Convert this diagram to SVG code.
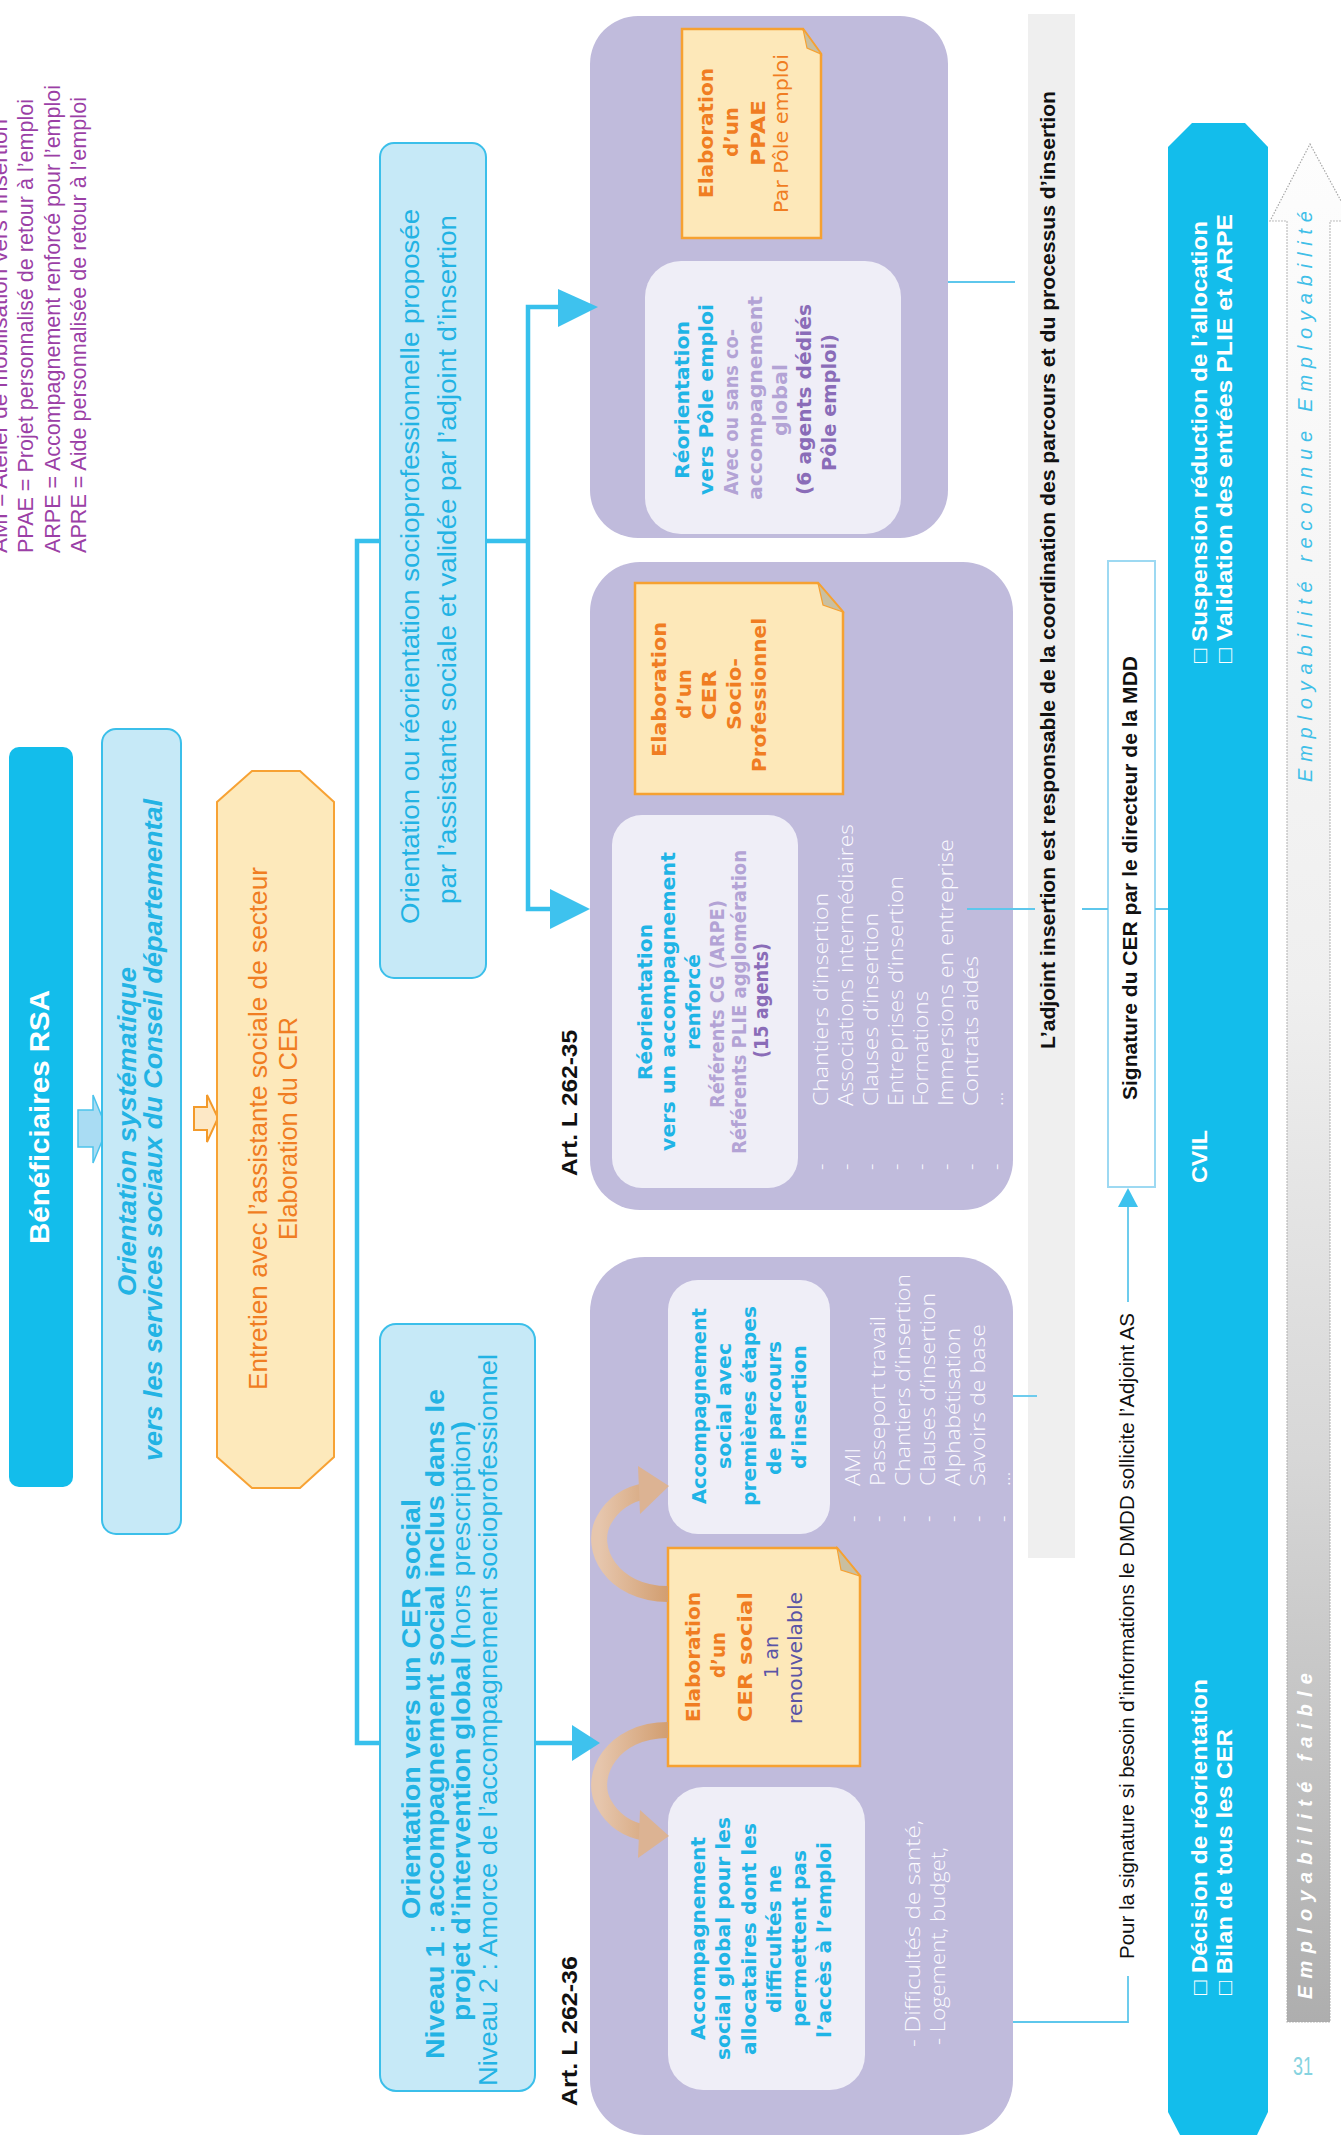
<svg xmlns="http://www.w3.org/2000/svg" width="1341" height="2144" viewBox="0 0 1341 2144">
<style>
text { font-family: "Liberation Sans", Arial, sans-serif; }
.leg { font-size: 21.5px; fill: #9b3fa6; }
.vb { font-family: "DejaVu Sans", Verdana, sans-serif; font-weight: bold; font-size: 20px; }
.vr { font-family: "DejaVu Sans", Verdana, sans-serif; font-size: 20px; }
.cy { fill: #1fb4e6; }
.lp { fill: #b3a3d5; }
.dp { fill: #8a6cb8; }
.or { fill: #f07d22; }
.ind { fill: #5a54a6; }
.li { font-family: "Open Sans", "Liberation Sans", sans-serif; font-weight: 300; font-size: 20px; fill: #fbfaff; }
.bk { fill: #111111; }
.wb { fill: #ffffff; font-weight: bold; }
.bt { fill: #22b3e4; }
.purple { fill: #c0bbdc; }
.inner { fill: #efeef7; }
.note { fill: #fde8b9; stroke: #f6a131; stroke-width: 2.5; }
.fold { fill: #c9bfa0; stroke: #f6a131; stroke-width: 1.2; }
.lbox { fill: #c6e9f7; stroke: #3bbfea; stroke-width: 2; }
.conn { fill: none; stroke: #37c0ec; stroke-width: 4.5; }
.thin { fill: none; stroke: #5ec7ec; stroke-width: 1.8; }
.head { fill: #3ec2ee; }
.tan { fill: none; stroke: url(#tanG); stroke-width: 16; }
.tanh { fill: #dcb393; }
</style>
<defs>
<linearGradient id="empl" x1="0" y1="144" x2="0" y2="2022" gradientUnits="userSpaceOnUse">
<stop offset="0" stop-color="#fdfdfd"/>
<stop offset="0.45" stop-color="#efefef"/>
<stop offset="0.7" stop-color="#d7d7d7"/>
<stop offset="1" stop-color="#aeaeae"/>
</linearGradient>
<linearGradient id="tanG" x1="0" y1="0" x2="1" y2="0">
<stop offset="0" stop-color="#e6c6ad"/>
<stop offset="1" stop-color="#d29e70"/>
</linearGradient>
</defs>
<rect width="1341" height="2144" fill="#ffffff"/>

<g id="legend">
<text class="leg" transform="translate(7,553) rotate(-90)" textLength="434" lengthAdjust="spacingAndGlyphs">AMI = Atelier de mobilisation vers l’insertion</text>
<text class="leg" transform="translate(33,553) rotate(-90)" textLength="454" lengthAdjust="spacingAndGlyphs">PPAE = Projet personnalisé de retour à l’emploi</text>
<text class="leg" transform="translate(60,553) rotate(-90)" textLength="468" lengthAdjust="spacingAndGlyphs">ARPE = Accompagnement renforcé pour l’emploi</text>
<text class="leg" transform="translate(86,553) rotate(-90)" textLength="456" lengthAdjust="spacingAndGlyphs">APRE = Aide personnalisée de retour à l’emploi</text>
</g>

<g id="beneficiaires">
<rect x="9" y="747" width="64" height="740" rx="10" fill="#13bdeb"/>
<text class="wb" font-size="28" transform="translate(49,1244) rotate(-90)" textLength="254" lengthAdjust="spacingAndGlyphs">Bénéficiaires RSA</text>
</g>

<g id="arrow-blue">
<polygon points="78,1110 93,1110 93,1095 107,1129 93,1163 93,1147 78,1147" fill="#a9dcf3" stroke="#4cc3ec" stroke-width="1.5"/>
</g>

<g id="orientation-systematique">
<rect class="lbox" x="102" y="729" width="79" height="805" rx="14"/>
<text class="bt" font-weight="bold" font-style="italic" font-size="25" transform="translate(136,1296) rotate(-90)" textLength="329" lengthAdjust="spacingAndGlyphs">Orientation systématique</text>
<text class="bt" font-weight="bold" font-style="italic" font-size="25" transform="translate(162,1461) rotate(-90)" textLength="662" lengthAdjust="spacingAndGlyphs">vers les services sociaux du Conseil départemental</text>
</g>

<g id="arrow-orange">
<polygon points="194,1107 207,1107 207,1095 218,1118 207,1142 207,1130 194,1130" fill="#fde8c6" stroke="#f39a2b" stroke-width="2"/>
</g>

<g id="entretien">
<polygon points="252,771 300,771 334,802 334,1457 300,1488 252,1488 217,1457 217,802" fill="#fde9bb" stroke="#f7a234" stroke-width="2"/>
<text class="or" font-size="25" transform="translate(267,1390) rotate(-90)" textLength="523" lengthAdjust="spacingAndGlyphs">Entretien avec l’assistante sociale de secteur</text>
<text class="or" font-size="25" transform="translate(297,1240) rotate(-90)" textLength="223" lengthAdjust="spacingAndGlyphs">Elaboration du CER</text>
</g>

<g id="orientation-socio">
<rect class="lbox" x="380" y="143" width="106" height="835" rx="14"/>
<text class="bt" font-size="25" transform="translate(419,924) rotate(-90)" textLength="715" lengthAdjust="spacingAndGlyphs">Orientation ou réorientation socioprofessionnelle proposée</text>
<text class="bt" font-size="25" transform="translate(456,904) rotate(-90)" textLength="689" lengthAdjust="spacingAndGlyphs">par l’assistante sociale et validée par l’adjoint d’insertion</text>
</g>

<g id="orientation-cer-social">
<rect class="lbox" x="380" y="1324" width="155" height="767" rx="16"/>
<text class="bt" font-weight="bold" font-size="25" transform="translate(420,1919) rotate(-90)" textLength="420" lengthAdjust="spacingAndGlyphs">Orientation vers un CER social</text>
<text class="bt" font-weight="bold" font-size="25" transform="translate(444,2059) rotate(-90)" textLength="670" lengthAdjust="spacingAndGlyphs">Niveau 1 : accompagnement social inclus dans le</text>
<text class="bt" font-size="25" transform="translate(470,2021) rotate(-90)" textLength="600" lengthAdjust="spacingAndGlyphs"><tspan font-weight="bold">projet d’intervention global (</tspan><tspan>hors prescription</tspan><tspan font-weight="bold">)</tspan></text>
<text class="bt" font-size="25" transform="translate(497,2086) rotate(-90)" textLength="732" lengthAdjust="spacingAndGlyphs">Niveau 2 : Amorce de l’accompagnement socioprofessionnel</text>
</g>

<g id="art-labels">
<text class="bk" font-weight="bold" font-size="22" transform="translate(577,1176) rotate(-90)" textLength="146" lengthAdjust="spacingAndGlyphs">Art. L 262-35</text>
<text class="bk" font-weight="bold" font-size="22" transform="translate(577,2106) rotate(-90)" textLength="150" lengthAdjust="spacingAndGlyphs">Art. L 262-36</text>
</g>

<g id="box-pole-emploi">
<rect class="purple" x="590" y="16" width="358" height="522" rx="48"/>
<rect class="inner" x="645" y="261" width="256" height="273" rx="36"/>
<text class="vb cy" transform="translate(689,479) rotate(-90)" textLength="158" lengthAdjust="spacingAndGlyphs">Réorientation</text>
<text class="vb cy" transform="translate(713,495) rotate(-90)" textLength="191" lengthAdjust="spacingAndGlyphs">vers Pôle emploi</text>
<text class="vb lp" font-size="19" transform="translate(738,495) rotate(-90)" textLength="166" lengthAdjust="spacingAndGlyphs">Avec ou sans co-</text>
<text class="vb lp" font-size="19" transform="translate(762,500) rotate(-90)" textLength="204" lengthAdjust="spacingAndGlyphs">accompagnement</text>
<text class="vb lp" font-size="19" transform="translate(787,436) rotate(-90)" textLength="72" lengthAdjust="spacingAndGlyphs">global</text>
<text class="vb dp" transform="translate(811,495) rotate(-90)" textLength="191" lengthAdjust="spacingAndGlyphs">(6 agents dédiés</text>
<text class="vb dp" transform="translate(836,471) rotate(-90)" textLength="137" lengthAdjust="spacingAndGlyphs">Pôle emploi)</text>
</g>

<g id="note-ppae">
<path class="note" d="M682,29 H803 L821,54 V238 H682 Z"/>
<path class="fold" d="M803,29 L821,54 L807,48 Z"/>
<text class="vb or" transform="translate(713,198) rotate(-90)" textLength="130" lengthAdjust="spacingAndGlyphs">Elaboration</text>
<text class="vb or" transform="translate(738,157) rotate(-90)" textLength="50" lengthAdjust="spacingAndGlyphs">d’un</text>
<text class="vb or" font-size="22" transform="translate(765,166) rotate(-90)" textLength="66" lengthAdjust="spacingAndGlyphs">PPAE</text>
<text class="vr or" transform="translate(788,213) rotate(-90)" textLength="159" lengthAdjust="spacingAndGlyphs">Par Pôle emploi</text>
</g>

<g id="box-renforce">
<rect class="purple" x="590" y="562" width="423" height="648" rx="50"/>
<rect class="inner" x="612" y="815" width="186" height="373" rx="30"/>
<text class="vb cy" transform="translate(652,1080) rotate(-90)" textLength="156" lengthAdjust="spacingAndGlyphs">Réorientation</text>
<text class="vb cy" transform="translate(675,1151) rotate(-90)" textLength="299" lengthAdjust="spacingAndGlyphs">vers un accompagnement</text>
<text class="vb cy" transform="translate(700,1050) rotate(-90)" textLength="96" lengthAdjust="spacingAndGlyphs">renforcé</text>
<text class="vb lp" font-size="18" transform="translate(724,1108) rotate(-90)" textLength="208" lengthAdjust="spacingAndGlyphs">Référents CG (ARPE)</text>
<text class="vb lp" font-size="18" transform="translate(746,1154) rotate(-90)" textLength="304" lengthAdjust="spacingAndGlyphs">Référents PLIE agglomération</text>
<text class="vb dp" font-size="18" transform="translate(768,1058) rotate(-90)" textLength="115" lengthAdjust="spacingAndGlyphs">(15 agents)</text>
</g>

<g id="note-cer-socio-pro">
<path class="note" d="M635,583 H818 L843,612 V794 H635 Z"/>
<path class="fold" d="M818,583 L843,612 L823,605 Z"/>
<text class="vb or" transform="translate(666,757) rotate(-90)" textLength="135" lengthAdjust="spacingAndGlyphs">Elaboration</text>
<text class="vb or" transform="translate(691,719) rotate(-90)" textLength="50" lengthAdjust="spacingAndGlyphs">d’un</text>
<text class="vb or" transform="translate(716,720) rotate(-90)" textLength="50" lengthAdjust="spacingAndGlyphs">CER</text>
<text class="vb or" transform="translate(741,730) rotate(-90)" textLength="72" lengthAdjust="spacingAndGlyphs">Socio-</text>
<text class="vb or" transform="translate(766,772) rotate(-90)" textLength="154" lengthAdjust="spacingAndGlyphs">Professionnel</text>
</g>

<g id="list-socio-pro">
<text class="li" transform="translate(828,1170) rotate(-90)">-</text>
<text class="li" transform="translate(853,1170) rotate(-90)">-</text>
<text class="li" transform="translate(878,1170) rotate(-90)">-</text>
<text class="li" transform="translate(903,1170) rotate(-90)">-</text>
<text class="li" transform="translate(928,1170) rotate(-90)">-</text>
<text class="li" transform="translate(953,1170) rotate(-90)">-</text>
<text class="li" transform="translate(978,1170) rotate(-90)">-</text>
<text class="li" transform="translate(1003,1170) rotate(-90)">-</text>
<text class="li" transform="translate(828,1106) rotate(-90)" textLength="213" lengthAdjust="spacingAndGlyphs">Chantiers d’insertion</text>
<text class="li" transform="translate(853,1106) rotate(-90)" textLength="282" lengthAdjust="spacingAndGlyphs">Associations intermédiaires</text>
<text class="li" transform="translate(878,1106) rotate(-90)" textLength="193" lengthAdjust="spacingAndGlyphs">Clauses d’insertion</text>
<text class="li" transform="translate(903,1106) rotate(-90)" textLength="230" lengthAdjust="spacingAndGlyphs">Entreprises d’insertion</text>
<text class="li" transform="translate(928,1106) rotate(-90)" textLength="115" lengthAdjust="spacingAndGlyphs">Formations</text>
<text class="li" transform="translate(953,1106) rotate(-90)" textLength="267" lengthAdjust="spacingAndGlyphs">Immersions en entreprise</text>
<text class="li" transform="translate(978,1106) rotate(-90)" textLength="150" lengthAdjust="spacingAndGlyphs">Contrats aidés</text>
<text class="li" transform="translate(1003,1106) rotate(-90)">…</text>
</g>

<g id="box-cer-social">
<rect class="purple" x="590" y="1257" width="423" height="878" rx="55"/>
<rect class="inner" x="668" y="1280" width="162" height="254" rx="30"/>
<text class="vb cy" transform="translate(706,1504) rotate(-90)" textLength="196" lengthAdjust="spacingAndGlyphs">Accompagnement</text>
<text class="vb cy" transform="translate(731,1469) rotate(-90)" textLength="126" lengthAdjust="spacingAndGlyphs">social avec</text>
<text class="vb cy" transform="translate(756,1506) rotate(-90)" textLength="200" lengthAdjust="spacingAndGlyphs">premières étapes</text>
<text class="vb cy" transform="translate(781,1475) rotate(-90)" textLength="134" lengthAdjust="spacingAndGlyphs">de parcours</text>
<text class="vb cy" transform="translate(806,1469) rotate(-90)" textLength="124" lengthAdjust="spacingAndGlyphs">d’insertion</text>
<rect class="inner" x="668" y="1787" width="197" height="303" rx="35"/>
<text class="vb cy" transform="translate(705,2040) rotate(-90)" textLength="203" lengthAdjust="spacingAndGlyphs">Accompagnement</text>
<text class="vb cy" transform="translate(730,2060) rotate(-90)" textLength="243" lengthAdjust="spacingAndGlyphs">social global pour les</text>
<text class="vb cy" transform="translate(756,2055) rotate(-90)" textLength="232" lengthAdjust="spacingAndGlyphs">allocataires dont les</text>
<text class="vb cy" transform="translate(781,2013) rotate(-90)" textLength="148" lengthAdjust="spacingAndGlyphs">difficultés ne</text>
<text class="vb cy" transform="translate(806,2027) rotate(-90)" textLength="177" lengthAdjust="spacingAndGlyphs">permettent pas</text>
<text class="vb cy" transform="translate(831,2038) rotate(-90)" textLength="196" lengthAdjust="spacingAndGlyphs">l’accès à l’emploi</text>
</g>

<g id="note-cer-social">
<path class="note" d="M668,1548 H837 L860,1576 V1766 H668 Z"/>
<path class="fold" d="M837,1548 L860,1576 L841,1570 Z"/>
<text class="vb or" transform="translate(700,1722) rotate(-90)" textLength="130" lengthAdjust="spacingAndGlyphs">Elaboration</text>
<text class="vb or" transform="translate(725,1678) rotate(-90)" textLength="46" lengthAdjust="spacingAndGlyphs">d’un</text>
<text class="vb or" font-size="23" transform="translate(752,1722) rotate(-90)" textLength="130" lengthAdjust="spacingAndGlyphs">CER social</text>
<text class="vr ind" transform="translate(778,1678) rotate(-90)" textLength="42" lengthAdjust="spacingAndGlyphs">1 an</text>
<text class="vr ind" transform="translate(802,1724) rotate(-90)" textLength="132" lengthAdjust="spacingAndGlyphs">renouvelable</text>
</g>

<g id="list-social">
<text class="li" transform="translate(860,1522) rotate(-90)">-</text>
<text class="li" transform="translate(885,1522) rotate(-90)">-</text>
<text class="li" transform="translate(910,1522) rotate(-90)">-</text>
<text class="li" transform="translate(935,1522) rotate(-90)">-</text>
<text class="li" transform="translate(960,1522) rotate(-90)">-</text>
<text class="li" transform="translate(985,1522) rotate(-90)">-</text>
<text class="li" transform="translate(1010,1522) rotate(-90)">-</text>
<text class="li" transform="translate(860,1486) rotate(-90)" textLength="38" lengthAdjust="spacingAndGlyphs">AMI</text>
<text class="li" transform="translate(885,1486) rotate(-90)" textLength="170" lengthAdjust="spacingAndGlyphs">Passeport travail</text>
<text class="li" transform="translate(910,1486) rotate(-90)" textLength="212" lengthAdjust="spacingAndGlyphs">Chantiers d’insertion</text>
<text class="li" transform="translate(935,1486) rotate(-90)" textLength="193" lengthAdjust="spacingAndGlyphs">Clauses d’insertion</text>
<text class="li" transform="translate(960,1486) rotate(-90)" textLength="158" lengthAdjust="spacingAndGlyphs">Alphabétisation</text>
<text class="li" transform="translate(985,1486) rotate(-90)" textLength="162" lengthAdjust="spacingAndGlyphs">Savoirs de base</text>
<text class="li" transform="translate(1010,1486) rotate(-90)">…</text>
<text class="li" transform="translate(920,2047) rotate(-90)" textLength="227" lengthAdjust="spacingAndGlyphs">- Difficultés de santé,</text>
<text class="li" transform="translate(945,2045) rotate(-90)" textLength="198" lengthAdjust="spacingAndGlyphs">- Logement, budget,</text>
</g>

<g id="coordination">
<rect x="1028" y="14" width="47" height="1544" fill="#efefef"/>
<text class="bk" font-weight="bold" font-size="21" transform="translate(1055,1049) rotate(-90)" textLength="958" lengthAdjust="spacingAndGlyphs">L’adjoint insertion est responsable de la coordination des parcours et du processus d’insertion</text>
</g>

<g id="signature">
<rect x="1108" y="561" width="47" height="626" fill="#ffffff" stroke="#9dd9f2" stroke-width="2"/>
<text class="bk" font-weight="bold" font-size="21" transform="translate(1137,1100) rotate(-90)" textLength="444" lengthAdjust="spacingAndGlyphs">Signature du CER par le directeur de la MDD</text>
</g>

<g id="note-signature">
<text class="bk" font-size="20" transform="translate(1134,1959) rotate(-90)" textLength="646" lengthAdjust="spacingAndGlyphs">Pour la signature si besoin d’informations le DMDD sollicite l’Adjoint AS</text>
</g>

<g id="cvil">
<polygon points="1192,123 1245,123 1268,147 1268,2112 1257,2135 1180,2135 1168,2112 1168,147" fill="#13bdeb"/>
<text class="wb" font-size="22" transform="translate(1207,663) rotate(-90)" textLength="442" lengthAdjust="spacingAndGlyphs">□ Suspension réduction de l’allocation</text>
<text class="wb" font-size="22" transform="translate(1232,663) rotate(-90)" textLength="449" lengthAdjust="spacingAndGlyphs">□ Validation des entrées PLIE et ARPE</text>
<text class="wb" font-size="22" transform="translate(1207,1183) rotate(-90)" textLength="53" lengthAdjust="spacingAndGlyphs">CVIL</text>
<text class="wb" font-size="22" transform="translate(1207,1995) rotate(-90)" textLength="316" lengthAdjust="spacingAndGlyphs">□ Décision de réorientation</text>
<text class="wb" font-size="22" transform="translate(1232,1995) rotate(-90)" textLength="266" lengthAdjust="spacingAndGlyphs">□ Bilan de tous les CER</text>
</g>

<g id="employabilite">
<polygon points="1310,144 1352,221 1330,221 1330,2022 1287,2022 1287,221 1270,221" fill="url(#empl)" stroke="#a8a8a8" stroke-width="1.2" stroke-dasharray="1.5 1.5"/>
<text font-style="italic" font-size="20" fill="#3fbfe8" transform="translate(1312,782) rotate(-90)" textLength="571" lengthAdjust="spacing">Employabilité reconnue Employabilité</text>
<text font-style="italic" font-weight="bold" font-size="20" fill="#ffffff" transform="translate(1312,1999) rotate(-90)" textLength="326" lengthAdjust="spacing">Employabilité faible</text>
</g>

<g id="page-number">
<text x="1293" y="2075" font-size="26" fill="#86d3e0" textLength="20" lengthAdjust="spacingAndGlyphs">31</text>
</g>

<g id="connectors">
<path class="conn" d="M380,541 H357 V1743 H380"/>
<path class="conn" d="M486,541 H528 M560,307 H528 V909 H552"/>
<polygon class="head" points="558,289 598,307 558,327"/>
<polygon class="head" points="550,889 590,909 550,929"/>
<path class="conn" d="M535,1743 H575"/>
<polygon class="head" points="572,1725 600,1743 572,1761"/>
<path class="thin" d="M948,282 H1015"/>
<path class="thin" d="M967,909 H1035 M1082,909 H1108 M1155,909 H1168"/>
<path class="thin" d="M1013,1396 H1037"/>
<path class="thin" d="M1013,2022 H1128 V1976 M1128,1302 V1205"/>
<polygon class="head" points="1118,1207 1128,1188 1138,1207"/>
<path class="tan" d="M668,1594 C612,1594 588,1548 604,1520 C614,1502 628,1494 646,1491"/>
<polygon class="tanh" points="638,1466 669,1486 640,1514"/>
<path class="tan" d="M668,1730 C612,1730 588,1776 604,1804 C614,1822 628,1830 646,1833"/>
<polygon class="tanh" points="640,1810 669,1836 638,1858"/>
</g>
</svg>
